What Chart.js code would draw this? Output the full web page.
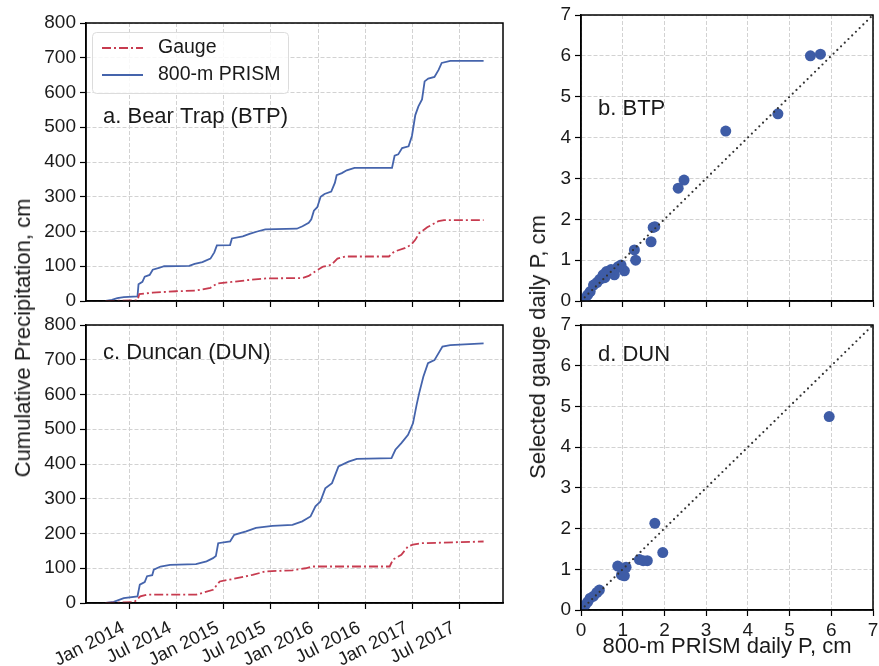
<!DOCTYPE html>
<html>
<head>
<meta charset="utf-8">
<title>Cumulative precipitation, gauge vs PRISM</title>
<script src="https://cdn.jsdelivr.net/npm/chart.js@4.4.1/dist/chart.umd.min.js"></script>
<style>
  body { margin: 0; background: #fff; }
  #wrap { position: relative; width: 879px; height: 666px; overflow: hidden; font-family: "Liberation Sans", Arial, sans-serif; color: #1a1a1a; }
  canvas { position: absolute; }
  .ytitle { position: absolute; font-size: 22px; line-height: 22px; white-space: nowrap; transform: translate(-50%, -50%) rotate(-90deg); }
</style>
</head>
<body>
<div id="wrap">
  <canvas id="btpLine" width="520" height="312" style="left:0;top:0"></canvas>
  <canvas id="dunLine" width="520" height="354" style="left:0;top:312px"></canvas>
  <canvas id="btpScatter" width="359" height="312" style="left:520px;top:0"></canvas>
  <canvas id="dunScatter" width="359" height="354" style="left:520px;top:312px"></canvas>
  <div class="ytitle" style="left:23px;top:338px">Cumulative Precipitation, cm</div>
  <div class="ytitle" style="left:538px;top:347px">Selected gauge daily P, cm</div>
</div>
<script>
// Time axis ticks
const tickDates = ['2014-01-01', '2014-07-01', '2015-01-01', '2015-07-01', '2016-01-01', '2016-07-01', '2017-01-01', '2017-07-01'];
const tickLabels = ['Jan 2014', 'Jul 2014', 'Jan 2015', 'Jul 2015', 'Jan 2016', 'Jul 2016', 'Jan 2017', 'Jul 2017'];
const dateMin = '2013-07-17';
const dateMax = '2017-12-15';

const seriesNames = ['Gauge', '800-m PRISM'];

// Bear Trap (BTP) cumulative precipitation, cm
const btpPrismDates = ['2013-10-01', '2013-10-25', '2013-11-15', '2013-12-10', '2014-02-01', '2014-02-05', '2014-02-20', '2014-03-01',
  '2014-03-20', '2014-04-01', '2014-04-25', '2014-05-15', '2014-08-20', '2014-09-10', '2014-10-10', '2014-11-10', '2014-11-25',
  '2014-12-05', '2015-01-25', '2015-02-01', '2015-03-15', '2015-04-10', '2015-05-10', '2015-06-10', '2015-10-10', '2015-11-01',
  '2015-11-25', '2015-12-05', '2015-12-15', '2015-12-28', '2016-01-10', '2016-01-25', '2016-02-20', '2016-03-05', '2016-03-12',
  '2016-04-01', '2016-04-20', '2016-05-20', '2016-10-12', '2016-10-22', '2016-11-05', '2016-11-20', '2016-12-15', '2016-12-28',
  '2017-01-10', '2017-01-22', '2017-02-05', '2017-02-15', '2017-03-01', '2017-03-25', '2017-04-10', '2017-04-22', '2017-05-25',
  '2017-10-01'];
const btpPrismValues = [0, 3, 8, 11, 13, 48, 55, 70,
  75, 90, 95, 100, 101, 107, 112, 122, 140,
  160, 161, 180, 186, 193, 200, 206, 208, 215,
  225, 235, 260, 270, 300, 308, 315, 340, 362,
  368, 376, 383, 383, 418, 422, 440, 445, 475,
  535, 560, 580, 632, 640, 645, 665, 685, 691,
  691];
const btpGaugeDates = ['2013-10-01', '2014-02-01', '2014-02-08', '2014-04-01', '2014-07-01', '2014-09-15', '2014-11-10', '2014-12-05',
  '2015-02-01', '2015-04-15', '2015-06-15', '2015-10-31', '2015-11-25', '2015-12-20', '2016-01-20', '2016-02-20', '2016-03-15',
  '2016-04-15', '2016-09-30', '2016-10-20', '2016-11-30', '2016-12-25', '2017-01-10', '2017-01-25', '2017-02-25', '2017-04-10',
  '2017-05-01', '2017-10-01'];
const btpGaugeValues = [0, 2, 20, 24, 28, 30, 38, 50,
  55, 61, 65, 66, 72, 85, 99, 104, 122,
  128, 128, 142, 152, 162, 176, 195, 212, 230,
  233, 233];

// Duncan (DUN) cumulative precipitation, cm
const dunPrismDates = ['2013-10-01', '2013-11-01', '2013-12-10', '2014-02-01', '2014-02-10', '2014-03-01', '2014-03-10', '2014-03-30',
  '2014-04-05', '2014-05-01', '2014-06-07', '2014-09-15', '2014-10-26', '2014-11-20', '2014-12-01', '2014-12-10', '2015-01-25',
  '2015-02-10', '2015-03-28', '2015-05-05', '2015-07-08', '2015-09-23', '2015-10-31', '2015-12-02', '2015-12-21', '2016-01-09',
  '2016-01-28', '2016-02-23', '2016-03-19', '2016-04-27', '2016-05-29', '2016-10-10', '2016-10-25', '2016-11-17', '2016-12-13',
  '2017-01-01', '2017-01-15', '2017-01-25', '2017-02-10', '2017-02-28', '2017-03-25', '2017-04-25', '2017-05-25', '2017-10-01'];
const dunPrismValues = [0, 3, 14, 19, 53, 60, 77, 80,
  96, 105, 110, 112, 120, 129, 135, 172, 177,
  196, 206, 216, 222, 225, 235, 249, 278, 292,
  330, 345, 393, 407, 415, 417, 441, 460, 484,
  517, 570, 604, 651, 690, 699, 738, 742, 747];
const dunGaugeDates = ['2013-10-01', '2014-01-20', '2014-02-12', '2014-03-09', '2014-09-17', '2014-11-20', '2014-12-16', '2015-02-05',
  '2015-04-22', '2015-06-12', '2015-09-23', '2015-11-13', '2015-12-08', '2016-10-03', '2016-10-16', '2016-11-17', '2016-12-13',
  '2017-01-01', '2017-02-02', '2017-10-01'];
const dunGaugeValues = [0, 3, 19, 24, 24, 38, 62, 69,
  81, 91, 94, 100, 105, 105, 125, 139, 163,
  168, 172, 177];

// Daily P: 800-m PRISM (x) vs selected gauge (y), cm
const btpDailyPrism = [5.50, 5.74, 4.72, 3.47, 2.47, 2.33, 1.77, 1.73, 1.68, 1.28, 1.31, 1.04, 0.96, 0.89, 0.80, 0.72, 0.61,
  0.57, 0.53, 0.45, 0.38, 0.30, 0.22, 0.16, 0.10, 0.04];
const btpDailyGauge = [6.00, 6.04, 4.58, 4.16, 2.96, 2.76, 1.82, 1.80, 1.45, 1.25, 1.00, 0.74, 0.88, 0.84, 0.64, 0.77, 0.72,
  0.57, 0.64, 0.53, 0.45, 0.39, 0.23, 0.15, 0.07, 0.02];
const dunDailyPrism = [5.95, 1.77, 1.96, 1.59, 1.40, 1.49, 1.08, 0.88, 0.97, 1.04, 0.44, 0.38, 0.30, 0.22, 0.16, 0.10, 0.04];
const dunDailyGauge = [4.75, 2.13, 1.41, 1.21, 1.24, 1.21, 1.05, 1.08, 0.86, 0.84, 0.49, 0.43, 0.34, 0.29, 0.20, 0.12, 0.06];
const oneToOne = [0, 7];

// Styling
const textColor = '#1a1a1a';
const gridColor = '#d2d2d2';
const gaugeColor = '#c73b4f';
const prismColor = '#4564ac';
const dotColor = '#3e5ca6';
const fontFamily = '"Liberation Sans", Arial, sans-serif';

Chart.defaults.font.family = fontFamily;
Chart.defaults.color = textColor;

function day(s) {
    return Date.UTC(+s.slice(0, 4), +s.slice(5, 7) - 1, +s.slice(8, 10)) / 864e5;
}

function toPoints(xs, ys) {
    return xs.map((x, i) => ({ x: x, y: ys[i] }));
}

// Box around the plot area
const framePlugin = {
    id: 'frame',
    afterDatasetsDraw(chart) {
        const a = chart.chartArea;
        const ctx = chart.ctx;
        ctx.save();
        ctx.strokeStyle = '#000';
        ctx.lineWidth = 1.5;
        ctx.strokeRect(a.left, a.top, a.right - a.left, a.bottom - a.top);
        ctx.restore();
    }
};

// Panel label like "a. Bear Trap (BTP)"
const panelTextPlugin = {
    id: 'panelText',
    afterDatasetsDraw(chart, args, opts) {
        if (!opts.text) return;
        const ctx = chart.ctx;
        ctx.save();
        ctx.font = opts.size + 'px ' + fontFamily;
        ctx.fillStyle = textColor;
        ctx.textBaseline = 'middle';
        ctx.fillText(opts.text, chart.chartArea.left + opts.dx, chart.chartArea.top + opts.dy);
        ctx.restore();
    }
};

// matplotlib-style legend inside the plot area
const boxLegendPlugin = {
    id: 'boxLegend',
    afterDatasetsDraw(chart, args, opts) {
        if (!opts.display) return;
        const ctx = chart.ctx;
        const x = chart.chartArea.left + 6;
        const y = chart.chartArea.top + 9;
        ctx.save();
        ctx.fillStyle = 'rgba(255,255,255,0.85)';
        ctx.strokeStyle = '#dcdcdc';
        ctx.lineWidth = 1;
        ctx.beginPath();
        ctx.roundRect(x + 0.5, y + 0.5, 196, 61, 4);
        ctx.fill();
        ctx.stroke();
        chart.data.datasets.forEach((ds, i) => {
            const rowY = y + 16 + i * 27;
            ctx.strokeStyle = ds.borderColor;
            ctx.lineWidth = ds.borderWidth;
            ctx.setLineDash(ds.borderDash || []);
            ctx.beginPath();
            ctx.moveTo(x + 10, rowY);
            ctx.lineTo(x + 51, rowY);
            ctx.stroke();
            ctx.setLineDash([]);
            ctx.fillStyle = textColor;
            ctx.font = '19.5px ' + fontFamily;
            ctx.textBaseline = 'middle';
            ctx.fillText(ds.label, x + 66, rowY);
        });
        ctx.restore();
    }
};

Chart.register(framePlugin, panelTextPlugin, boxLegendPlugin);

function axisStyle() {
    return {
        grid: { color: gridColor, lineWidth: 1, tickColor: '#000', tickLength: 6, tickWidth: 1.2 },
        border: { display: true, color: '#000', width: 1.5, dash: [4, 2] }
    };
}

function makeLineChart(id, prismDates, prismValues, gaugeDates, gaugeValues, panelLabel, cfg) {
    const xStyle = axisStyle();
    const yStyle = axisStyle();
    return new Chart(document.getElementById(id), {
        type: 'line',
        data: {
            datasets: [
                {
                    label: seriesNames[0],
                    data: toPoints(gaugeDates.map(day), gaugeValues),
                    borderColor: gaugeColor,
                    borderWidth: 1.8,
                    borderDash: [9, 3, 2, 3],
                    pointRadius: 0,
                    tension: 0
                },
                {
                    label: seriesNames[1],
                    data: toPoints(prismDates.map(day), prismValues),
                    borderColor: prismColor,
                    borderWidth: 1.8,
                    pointRadius: 0,
                    tension: 0
                }
            ]
        },
        options: {
            responsive: false,
            animation: false,
            layout: { padding: { top: cfg.top, right: 17, left: 0, bottom: 0 } },
            plugins: {
                legend: { display: false },
                tooltip: { enabled: false },
                panelText: { text: panelLabel, size: 22, dx: 17, dy: cfg.labelY },
                boxLegend: { display: cfg.legend }
            },
            scales: {
                x: {
                    type: 'linear',
                    min: day(dateMin),
                    max: day(dateMax),
                    afterBuildTicks: s => { s.ticks = tickDates.map(d => ({ value: day(d) })); },
                    afterFit: s => { s.height = cfg.xHeight; s.paddingLeft = 0; s.paddingRight = 0; },
                    ticks: {
                        display: cfg.xLabels,
                        autoSkip: false,
                        minRotation: 27,
                        maxRotation: 27,
                        padding: 8,
                        labelOffset: -6,
                        font: { size: 18.5 },
                        callback: (v, i) => tickLabels[i]
                    },
                    grid: xStyle.grid,
                    border: xStyle.border
                },
                y: {
                    min: 0,
                    max: 800,
                    afterFit: s => { s.width = 86; s.paddingTop = 0; s.paddingBottom = 0; },
                    ticks: { stepSize: 100, padding: 4, font: { size: 19 } },
                    grid: yStyle.grid,
                    border: yStyle.border
                }
            }
        }
    });
}

function makeScatterChart(id, xs, ys, panelLabel, cfg) {
    const xStyle = axisStyle();
    const yStyle = axisStyle();
    return new Chart(document.getElementById(id), {
        type: 'scatter',
        data: {
            datasets: [
                {
                    type: 'line',
                    data: toPoints(oneToOne, oneToOne),
                    borderColor: '#333',
                    borderWidth: 2.2,
                    borderDash: [0, 5.2],
                    borderCapStyle: 'round',
                    pointRadius: 0,
                    fill: false
                },
                {
                    data: toPoints(xs, ys),
                    backgroundColor: dotColor,
                    borderWidth: 0,
                    pointRadius: 5.5
                }
            ]
        },
        options: {
            responsive: false,
            animation: false,
            layout: { padding: { top: cfg.top, right: 6, left: 0, bottom: 0 } },
            plugins: {
                legend: { display: false },
                tooltip: { enabled: false },
                panelText: { text: panelLabel, size: 22, dx: 17, dy: cfg.labelY }
            },
            scales: {
                x: {
                    type: 'linear',
                    min: 0,
                    max: 7,
                    afterFit: s => { s.height = cfg.xHeight; s.paddingLeft = 0; s.paddingRight = 0; },
                    ticks: { display: cfg.xLabels, stepSize: 1, padding: 3, font: { size: 19 } },
                    title: {
                        display: cfg.xLabels,
                        text: '800-m PRISM daily P, cm',
                        font: { size: 22 },
                        padding: { top: 0, bottom: 6 }
                    },
                    grid: xStyle.grid,
                    border: xStyle.border
                },
                y: {
                    min: 0,
                    max: 7,
                    afterFit: s => { s.width = 61; s.paddingTop = 0; s.paddingBottom = 0; },
                    ticks: { stepSize: 1, padding: 4, font: { size: 19 } },
                    grid: yStyle.grid,
                    border: yStyle.border
                }
            }
        }
    });
}

document.addEventListener('DOMContentLoaded', function () {
    makeLineChart('btpLine', btpPrismDates, btpPrismValues, btpGaugeDates, btpGaugeValues, 'a. Bear Trap (BTP)',
        { top: 23, xHeight: 11, xLabels: false, legend: true, labelY: 94 });
    makeLineChart('dunLine', dunPrismDates, dunPrismValues, dunGaugeDates, dunGaugeValues, 'c. Duncan (DUN)',
        { top: 13, xHeight: 63, xLabels: true, legend: false, labelY: 28 });
    makeScatterChart('btpScatter', btpDailyPrism, btpDailyGauge, 'b. BTP',
        { top: 15, xHeight: 11, xLabels: false, labelY: 94 });
    makeScatterChart('dunScatter', dunDailyPrism, dunDailyGauge, 'd. DUN',
        { top: 13, xHeight: 56, xLabels: true, labelY: 30 });
});
</script>
</body>
</html>
